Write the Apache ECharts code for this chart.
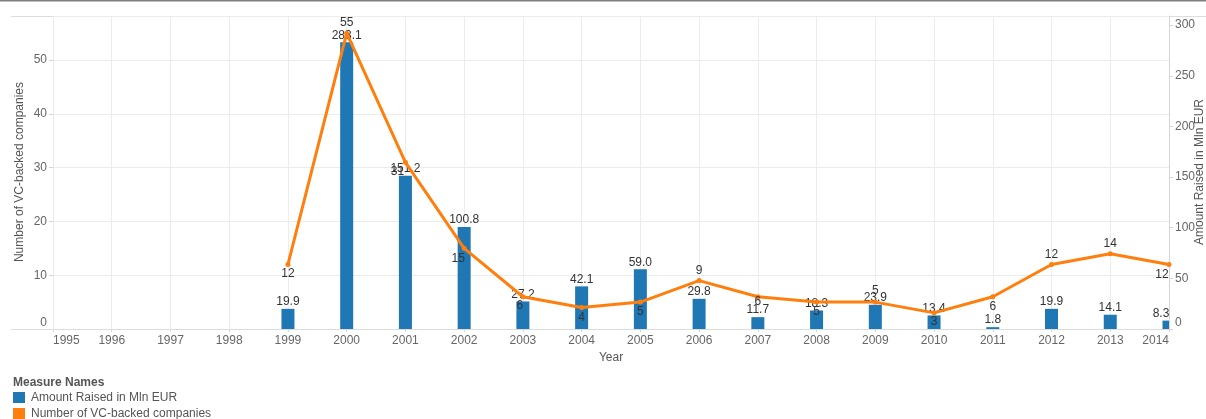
<!DOCTYPE html>
<html>
<head>
<meta charset="utf-8">
<script src="https://cdn.jsdelivr.net/npm/echarts@6/dist/echarts.min.js"></script>
<style>
html,body{margin:0;padding:0;background:#fff;}
#chart{width:1206px;height:419px;}
</style>
</head>
<body>
<div id="chart"></div>
<script>
// ---- data ----
const years = ['1995','1996','1997','1998','1999','2000','2001','2002','2003','2004','2005','2006','2007','2008','2009','2010','2011','2012','2013','2014'];
const amountRaised = [null,null,null,null,19.9,283.1,151.2,100.8,27.2,42.1,59.0,29.8,11.7,18.3,23.9,13.4,1.8,19.9,14.1,8.3];
const companies = [null,null,null,null,12,55,31,15,6,4,5,9,6,5,5,3,6,12,14,12];
const seriesNames = ['Amount Raised in Mln EUR','Number of VC-backed companies'];
const axisTitles = {left:'Number of VC-backed companies', right:'Amount Raised in Mln EUR', x:'Year'};
const legendTitle = 'Measure Names';

// ---- label placement (style only) ----
const countLabelOffset = {
  '1999':[0,9], '2000':[0,-11], '2001':[-8,9], '2002':[-6,10], '2003':[-3,9],
  '2004':[0,10], '2005':[0,10], '2006':[0,-10], '2007':[0,5], '2008':[0,10],
  '2009':[0,-11], '2010':[0,9], '2011':[0,10], '2012':[0,-10], '2013':[0,-10], '2014':[-7,10]
};
const amountLabelOffset = {'2014':[-8,0]};

const BLUE = '#1f77b4', ORANGE = '#ff7f0e';
const FONT = '"Liberation Sans", Arial, sans-serif';
const BAR_W = 13;

const lineData = companies.map((v, i) => {
  if (v === null) return null;
  const off = countLabelOffset[years[i]] || [0, -10];
  return {value: v, label: {offset: off}};
});
const barData = [];
amountRaised.forEach((v, i) => { if (v !== null) barData.push([i, v]); });

const zeroUp = v => (v === 0 ? '{z|0}' : String(v));

function renderBar(params, api) {
  const idx = api.value(0);
  const val = api.value(1);
  const top = api.coord([idx, val]);
  const base = api.coord([idx, 0]);
  const cs = params.coordSys;
  const rect = echarts.graphic.clipRectByRect(
    {x: top[0] - BAR_W / 2, y: top[1], width: BAR_W, height: base[1] - top[1]},
    {x: cs.x, y: cs.y, width: cs.width, height: cs.height}
  );
  const off = amountLabelOffset[years[idx]] || [0, 0];
  const children = [];
  if (rect) children.push({type: 'rect', shape: rect, style: {fill: BLUE}});
  children.push({
    type: 'text', x: top[0] + off[0], y: top[1] - 1 + off[1],
    style: {text: val.toFixed(1), fill: '#333', font: '12px ' + FONT, textAlign: 'center', textVerticalAlign: 'bottom'}
  });
  return {type: 'group', children: children};
}

const chart = echarts.init(document.getElementById('chart'), null, {renderer: 'canvas'});
chart.setOption({
  backgroundColor: '#fff',
  animation: false,
  textStyle: {fontFamily: FONT},
  grid: {left: 53, right: 37, top: 16, height: 313},
  xAxis: {
    type: 'category',
    data: years,
    boundaryGap: false,
    name: axisTitles.x,
    nameLocation: 'middle',
    nameGap: 20,
    nameTextStyle: {color: '#555', fontSize: 12, fontFamily: FONT},
    axisLine: {show: false},
    axisTick: {show: true, length: 3, lineStyle: {color: '#d6d6d6'}},
    axisLabel: {color: '#666', fontSize: 12, margin: 6, interval: 0, alignMinLabel: 'left', alignMaxLabel: 'right', fontFamily: FONT},
    splitLine: {show: true, lineStyle: {color: '#ececec', width: 1}}
  },
  yAxis: [
    {
      type: 'value', min: 0, max: 58.2, interval: 10, position: 'left',
      axisLine: {show: false},
      axisTick: {show: true, length: 4, lineStyle: {color: '#d6d6d6'}},
      axisLabel: {color: '#666', fontSize: 12, margin: 6, showMaxLabel: false, fontFamily: FONT,
        formatter: zeroUp, rich: {z: {color: '#666', fontSize: 12, padding: [0,0,12,0], fontFamily: FONT}}},
      splitLine: {show: true, lineStyle: {color: '#ececec', width: 1}}
    },
    {
      type: 'value', min: 0, max: 309, interval: 50, position: 'right',
      axisLine: {show: true, lineStyle: {color: '#d6d6d6'}},
      axisTick: {show: true, length: 4, lineStyle: {color: '#d6d6d6'}},
      axisLabel: {color: '#666', fontSize: 12, margin: 6, showMaxLabel: false, fontFamily: FONT,
        formatter: zeroUp, rich: {z: {color: '#666', fontSize: 12, padding: [0,0,12,0], fontFamily: FONT}}},
      splitLine: {show: false}
    }
  ],
  graphic: [
    {type: 'line', shape: {x1: 0, y1: 0.5, x2: 1206, y2: 0.5}, style: {stroke: '#808080', lineWidth: 2}, silent: true},
    {type: 'line', shape: {x1: 11, y1: 16.5, x2: 1206, y2: 16.5}, style: {stroke: '#dcdcdc', lineWidth: 1}, silent: true},
    {type: 'line', shape: {x1: 11, y1: 329.5, x2: 1169, y2: 329.5}, style: {stroke: '#dcdcdc', lineWidth: 1}, silent: true, z: 10},
    {type: 'text', x: 20, y: 172, rotation: Math.PI / 2,
      style: {text: axisTitles.left, fill: '#555', font: '12px ' + FONT, textAlign: 'center', textVerticalAlign: 'middle'}, silent: true},
    {type: 'text', x: 1200, y: 172, rotation: Math.PI / 2,
      style: {text: axisTitles.right, fill: '#555', font: '12px ' + FONT, textAlign: 'center', textVerticalAlign: 'middle'}, silent: true},
    {type: 'text', x: 13, y: 383,
      style: {text: legendTitle, fill: '#555', font: 'bold 12px ' + FONT, textVerticalAlign: 'middle'}, silent: true},
    {type: 'rect', shape: {x: 13, y: 392, width: 12, height: 11}, style: {fill: BLUE}, silent: true},
    {type: 'text', x: 31, y: 397.5,
      style: {text: seriesNames[0], fill: '#555', font: '12px ' + FONT, textVerticalAlign: 'middle'}, silent: true},
    {type: 'rect', shape: {x: 13, y: 408, width: 12, height: 11}, style: {fill: ORANGE}, silent: true},
    {type: 'text', x: 31, y: 413.5,
      style: {text: seriesNames[1], fill: '#555', font: '12px ' + FONT, textVerticalAlign: 'middle'}, silent: true}
  ],
  series: [
    {
      name: seriesNames[0],
      type: 'custom',
      xAxisIndex: 0,
      yAxisIndex: 1,
      data: barData,
      encode: {x: 0, y: 1},
      renderItem: renderBar,
      itemStyle: {color: BLUE},
      z: 2
    },
    {
      name: seriesNames[1],
      type: 'line',
      yAxisIndex: 0,
      data: lineData,
      symbol: 'circle',
      symbolSize: 5,
      showAllSymbol: true,
      lineStyle: {color: ORANGE, width: 3},
      itemStyle: {color: ORANGE},
      label: {show: true, position: 'inside', color: '#333', fontSize: 12, fontFamily: FONT},
      z: 3
    }
  ]
});
</script>
</body>
</html>
